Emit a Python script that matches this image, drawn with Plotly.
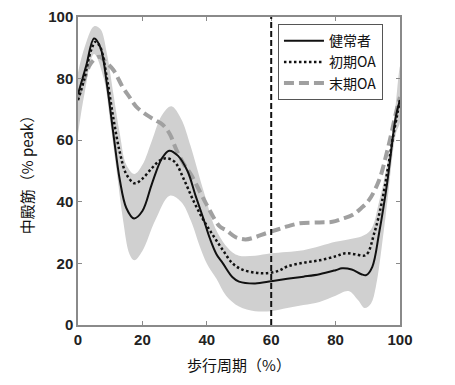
import plotly.graph_objects as go

# ---- data ----
healthy_x = [0, 2.5, 5, 7, 9, 11, 13, 15, 17.4, 20, 23, 26, 28.3, 31, 34, 36.5, 38.8, 41, 43, 45, 48, 50,
             55, 60, 65, 70, 75, 80, 82, 85, 88, 89.5, 91.4, 93.5, 96, 98.7, 100]
healthy_y = [75, 84, 93, 90, 78, 62, 47, 38, 34.6, 37, 46, 54, 56.6, 55, 50, 42, 35, 28, 23, 20, 15.5, 14.1,
             13.5, 14.2, 15, 15.7, 16.5, 17.8, 18.4, 18, 16.5, 16.2, 18.9, 29.8, 46, 67.6, 73]

early_x = [0, 2, 4, 5.5, 7, 9, 11, 13, 15, 17.6, 20, 23, 25.5, 27.5, 30, 33, 36, 39, 42, 45, 48, 51, 55, 58,
           62, 65, 70, 75, 80, 83, 86, 89.4, 92, 94.5, 98, 100]
early_y = [73, 80, 89, 92, 90, 80, 67, 56, 49, 46, 47.5, 51, 53.5, 54.1, 53, 47, 40, 34, 29, 24.3, 20, 18, 17,
           16.8, 17.5, 19, 20.2, 21, 22.3, 23.3, 23, 22.7, 29.8, 40.6, 62, 73]

late_x = [0, 2, 4, 6.6, 9, 11, 14, 16, 18, 21.3, 24, 26.3, 28.5, 30.5, 33, 35, 38, 40, 44, 46, 49, 52, 55,
          58.4, 62, 65, 68.7, 75, 79, 82, 85.2, 88, 90.4, 93.5, 96.1, 99.2, 100]
late_y = [74, 80, 85, 87.1, 85, 82.8, 77, 74, 71, 68.2, 66.5, 65, 62, 57, 52, 49, 43, 39, 32, 30.8, 28.5,
          27.8, 28.5, 29.8, 31, 32, 33, 33.3, 33.5, 34.5, 35.7, 38, 40.6, 47, 56.8, 70.9, 74]

band_upper_x = [0, 2, 5, 7, 9, 11, 13, 15, 17.5, 20, 23, 26, 29, 32, 35, 38, 40, 42, 45, 48, 50, 55, 60,
                70, 80, 85, 88, 91, 93.5, 96, 98, 100]
band_upper_y = [82, 90, 97, 96, 88, 75, 62, 52, 49, 52, 60, 68, 71, 67, 58, 47, 40, 33, 27, 23.5, 22.5,
                22.5, 23.3, 24.3, 27, 28, 28.7, 31, 40, 52, 65, 84]
band_lower_x = [0, 2, 5, 8, 10, 12, 14, 16, 17.5, 20, 24, 28.5, 32, 35, 38, 40, 43, 46, 50, 55, 60, 65, 70,
                75, 80, 84, 87, 89, 91, 92.5, 95.5, 98.7, 100]
band_lower_y = [62, 75, 88, 80, 66, 50, 34, 23, 21, 24, 34, 42, 40, 34, 25, 20, 15, 9.5, 6, 4.5, 4.5, 5.5,
                6.5, 7.5, 9.5, 11, 8, 5.5, 7, 12.4, 35, 62, 66]

x_ticks = [0, 20, 40, 60, 80, 100]
y_ticks = [0, 20, 40, 60, 80, 100]
marker_x = 60

names = ["健常者", "初期OA", "末期OA"]

fig = go.Figure()

# SD band of healthy
fig.add_trace(go.Scatter(
    x=band_upper_x + band_lower_x[::-1],
    y=band_upper_y + band_lower_y[::-1],
    fill="toself", fillcolor="rgb(208,208,208)", mode="lines",
    line=dict(width=0, shape="spline", smoothing=1.0),
    showlegend=False, hoverinfo="skip"))

fig.add_trace(go.Scatter(x=late_x, y=late_y, mode="lines", name=names[2], legendrank=3,
                         line=dict(color="rgb(160,160,160)", width=4, dash="10px,5px", shape="spline", smoothing=1.0)))
fig.add_trace(go.Scatter(x=early_x, y=early_y, mode="lines", name=names[1], legendrank=2,
                         line=dict(color="#111111", width=2.5, dash="2.5px,2.5px", shape="spline", smoothing=1.0)))
fig.add_trace(go.Scatter(x=healthy_x, y=healthy_y, mode="lines", name=names[0], legendrank=1,
                         line=dict(color="#111111", width=2, shape="spline", smoothing=1.0)))

fig.add_shape(type="line", x0=marker_x, x1=marker_x, xref="x", y0=0, y1=1, yref="paper",
              line=dict(color="#111111", width=2, dash="6px,3px"))

axis_common = dict(showline=True, linecolor="#8a8a8a", linewidth=1.5, mirror="ticks",
                   ticks="inside", ticklen=4, tickcolor="#8a8a8a", tickwidth=1,
                   showgrid=False, zeroline=False, automargin=False,
                   tickfont=dict(family="Liberation Sans, Arial", size=15, color="#222222", weight="bold"))

fig.update_xaxes(range=[0, 100], tickvals=x_ticks, **axis_common,
                 title=dict(text="歩行周期（%）", standoff=14,
                            font=dict(family="Noto Sans CJK JP", size=15, color="#111111")))
fig.update_yaxes(range=[0, 100], tickvals=y_ticks, **axis_common,
                 title=dict(text="中殿筋（% peak）", standoff=11,
                            font=dict(family="Noto Sans CJK JP", size=15, color="#111111")))

fig.update_layout(
    width=455, height=385,
    margin=dict(l=70, r=63, t=9, b=68, autoexpand=False),
    plot_bgcolor="white", paper_bgcolor="white",
    legend=dict(x=0.621, y=0.977, xanchor="left", yanchor="top",
                bgcolor="white", bordercolor="#555555", borderwidth=1,
                font=dict(family="Noto Sans CJK JP", size=14, color="#111111"),
                traceorder="normal", itemwidth=40, tracegroupgap=0),
)

fig.write_html("out.html")
